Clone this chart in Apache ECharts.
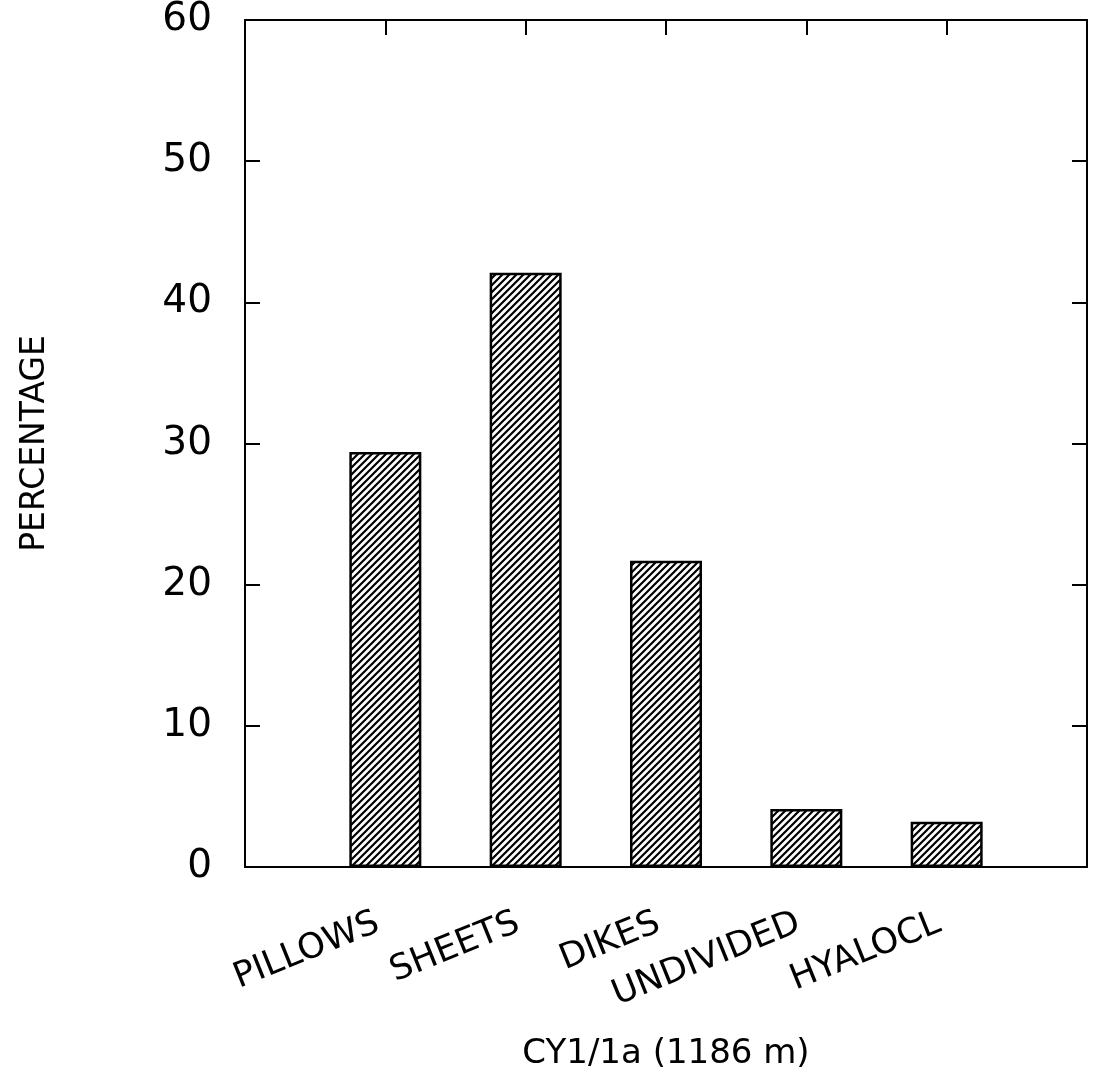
<!DOCTYPE html>
<html>
<head>
<meta charset="utf-8">
<script src="https://cdn.jsdelivr.net/npm/echarts@6/dist/echarts.min.js"></script>
<style>
  html, body { margin: 0; padding: 0; background: #fff; }
  #chart { width: 1095px; height: 1087px; }
</style>
</head>
<body>
<div id="chart"></div>
<script>
const categories = ['PILLOWS', 'SHEETS', 'DIKES', 'UNDIVIDED', 'HYALOCL']
const percentages = [29.4, 42.1, 21.7, 4.1, 3.2]
const yTicks = [0, 10, 20, 30, 40, 50, 60]

// empty slot on each side so the bars sit on ticks 1..5 of 0..6
const xData = [''].concat(categories, [''])
const yData = [null].concat(percentages, [null])

// diagonal hatch fill
function hatch() {
  const n = 7
  const c = document.createElement('canvas')
  c.width = n
  c.height = n
  const ctx = c.getContext('2d')
  ctx.fillStyle = '#fff'
  ctx.fillRect(0, 0, n, n)
  ctx.strokeStyle = '#000'
  ctx.lineWidth = 2.2
  ctx.beginPath()
  for (let k = -1; k <= 1; k++) {
    ctx.moveTo(-2 + k * n, n + 2)
    ctx.lineTo(n + 2 + k * n, -2)
  }
  ctx.stroke()
  return c
}

const font = 'DejaVu Sans'
const chart = echarts.init(document.getElementById('chart'))

const lineStyle = { color: '#000', width: 2 }
const tickStyle = { color: '#000', width: 2 }

chart.setOption({
  animation: false,
  backgroundColor: '#fff',
  grid: { left: 245, right: 8, top: 20, bottom: 220 },
  xAxis: [
    {
      type: 'category',
      data: xData,
      boundaryGap: false,
      position: 'bottom',
      axisLine: { onZero: false, lineStyle: lineStyle },
      axisTick: { show: false },
      axisLabel: {
        interval: 0,
        rotate: 22,
        margin: 52,
        padding: [0, 8, 0, 0],
        color: '#000',
        fontFamily: font,
        fontSize: 35
      },
      splitLine: { show: false },
      name: 'CY1/1a (1186 m)',
      nameLocation: 'middle',
      nameGap: 170,
      nameTextStyle: { color: '#000', fontFamily: font, fontSize: 34 }
    },
    {
      type: 'category',
      data: xData,
      boundaryGap: false,
      position: 'top',
      axisLine: { onZero: false, lineStyle: lineStyle },
      axisTick: {
        inside: true,
        length: 15,
        lineStyle: tickStyle,
        interval: (i) => i > 0 && i < xData.length - 1
      },
      axisLabel: { show: false },
      splitLine: { show: false }
    }
  ],
  yAxis: [
    {
      type: 'value',
      min: yTicks[0],
      max: yTicks[yTicks.length - 1],
      interval: 10,
      position: 'left',
      axisLine: { show: true, onZero: false, lineStyle: lineStyle },
      axisTick: { show: true, inside: true, length: 15, lineStyle: tickStyle },
      axisLabel: { margin: 33, color: '#000', fontFamily: font, fontSize: 39 },
      splitLine: { show: false },
      name: 'PERCENTAGE',
      nameLocation: 'middle',
      nameRotate: 90,
      nameGap: 193,
      nameTextStyle: { color: '#000', fontFamily: font, fontSize: 33 }
    },
    {
      type: 'value',
      min: yTicks[0],
      max: yTicks[yTicks.length - 1],
      interval: 10,
      position: 'right',
      axisLine: { show: true, onZero: false, lineStyle: lineStyle },
      axisTick: { show: true, inside: true, length: 15, lineStyle: tickStyle },
      axisLabel: { show: false },
      splitLine: { show: false }
    }
  ],
  series: [
    {
      type: 'bar',
      data: yData,
      barWidth: 72,
      itemStyle: {
        color: { image: hatch(), repeat: 'repeat' },
        borderColor: '#000',
        borderWidth: 2.5
      }
    }
  ]
})
</script>
</body>
</html>
